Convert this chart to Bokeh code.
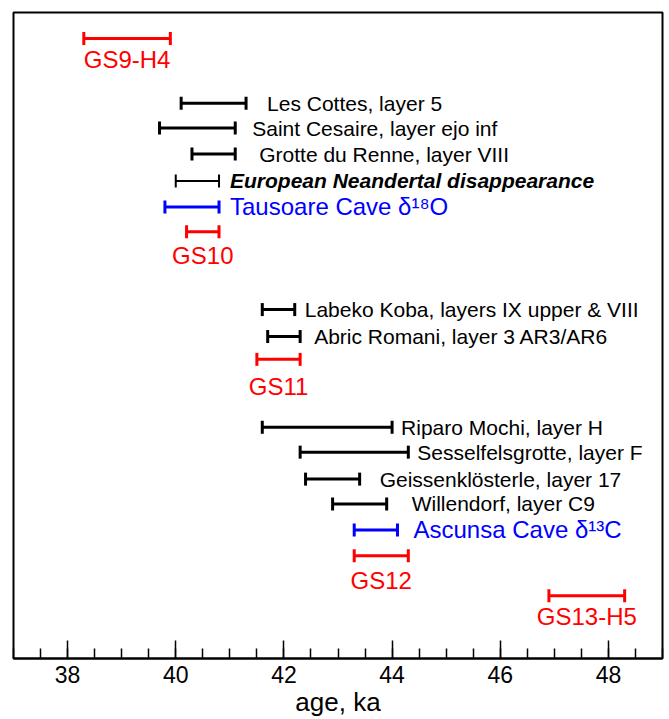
import math
from bokeh.plotting import figure
from bokeh.models import ColumnDataSource, Range1d, SingleIntervalTicker
from bokeh.core.properties import value
from bokeh.embed import file_html
from bokeh.resources import INLINE

# ---- data (ages in ka) ----
gs_names = ["GS9-H4", "GS10", "GS11", "GS12", "GS13-H5"]
gs_start = [38.3, 40.2, 41.5, 43.3, 46.9]
gs_end = [39.9, 40.8, 42.3, 44.3, 48.3]
gs_row = [1.0, 8.46, 13.38, 20.96, 22.5]
gs_label_drop = [21, 24, 27, 25, 21]

site_names = [
    "Les Cottes, layer 5",
    "Saint Cesaire, layer ejo inf",
    "Grotte du Renne, layer VIII",
    "European Neandertal disappearance",
    "Labeko Koba, layers IX upper & VIII",
    "Abric Romani, layer 3 AR3/AR6",
    "Riparo Mochi, layer H",
    "Sesselfelsgrotte, layer F",
    "Geissenklösterle, layer 17",
    "Willendorf, layer C9",
]
site_start = [40.1, 39.7, 40.3, 40.0, 41.6, 41.7, 41.6, 42.3, 42.4, 42.9]
site_end = [41.3, 41.1, 41.1, 40.8, 42.2, 42.3, 44.0, 44.3, 43.4, 43.9]
site_row = [3.5, 4.46, 5.46, 6.5, 11.46, 12.5, 16.0, 16.96, 18.0, 18.96]
site_gap = [21, 17, 24, 11, 10, 14, 9, 9, 20, 25]
site_style = ["normal", "normal", "normal", "bold italic", "normal",
              "normal", "normal", "normal", "normal", "normal"]
site_lw = [3, 3, 3, 2, 3, 3, 3, 3, 3, 3]

cave_names = ["Tausoare Cave δ¹⁸O", "Ascunsa Cave δ¹³C"]
cave_start = [39.8, 43.3]
cave_end = [40.8, 44.1]
cave_row = [7.5, 19.96]
cave_gap = [11, 16]

x_ticks_interval = 2
RED = "#ff0000"
BLUE = "#0000ff"
FONT = value("Liberation Sans")

p = figure(width=669, height=719,
           x_range=Range1d(37, 49), y_range=Range1d(24.92, 0),
           output_backend="svg", toolbar_location=None, title=None,
           min_border_left=13, min_border_right=7, min_border_top=12,
           min_border_bottom=0)
p.yaxis.visible = False
p.grid.visible = False
p.background_fill_color = "white"
p.border_fill_color = "white"
p.outline_line_color = "black"
p.outline_line_width = 2
p.outline_line_alpha = 1

xa = p.xaxis[0]
xa.ticker = SingleIntervalTicker(interval=x_ticks_interval, num_minor_ticks=4)
xa.major_tick_in = 18
xa.major_tick_out = 0
xa.minor_tick_in = 10
xa.minor_tick_out = 0
xa.major_tick_line_width = 1.5
xa.minor_tick_line_width = 1.5
xa.major_tick_line_color = "black"
xa.minor_tick_line_color = "black"
xa.axis_line_width = 2
xa.axis_line_color = "black"
xa.major_label_text_font = "Liberation Sans"
xa.major_label_text_font_size = "23px"
xa.major_label_text_color = "black"
xa.major_label_standoff = 7
xa.axis_label = "age, ka"
xa.axis_label_text_font = "Liberation Sans"
xa.axis_label_text_font_size = "26px"
xa.axis_label_text_font_style = "normal"
xa.axis_label_text_color = "black"
xa.axis_label_standoff = 1


def draw_bars(src, color, lw):
    p.segment(x0="lo", y0="y", x1="hi", y1="y", line_color=color,
              line_width=lw, line_cap="butt", source=src)
    for end in ("lo", "hi"):
        p.scatter(x=end, y="y", marker="dash", size=13, angle=math.pi / 2,
                  line_color=color, line_width=lw, source=src)


gs_src = ColumnDataSource(dict(
    lo=gs_start, hi=gs_end, y=gs_row, name=gs_names,
    mid=[(a + b) / 2 for a, b in zip(gs_start, gs_end)],
    drop=gs_label_drop))
draw_bars(gs_src, RED, 3)
p.text(x="mid", y="y", text="name", y_offset="drop", text_align="center",
       text_baseline="middle", text_font=FONT, text_font_size="24px",
       text_color=RED, source=gs_src)

site_src = ColumnDataSource(dict(
    lo=site_start, hi=site_end, y=site_row, name=site_names,
    gap=site_gap, style=site_style, lw=site_lw))
draw_bars(site_src, "black", "lw")
p.text(x="hi", y="y", text="name", x_offset="gap", text_align="left",
       text_baseline="middle", text_font=FONT, text_font_size="21px",
       text_font_style="style", text_color="black", source=site_src)

cave_src = ColumnDataSource(dict(
    lo=cave_start, hi=cave_end, y=cave_row, name=cave_names, gap=cave_gap))
draw_bars(cave_src, BLUE, 3)
p.text(x="hi", y="y", text="name", x_offset="gap", text_align="left",
       text_baseline="middle", text_font=FONT, text_font_size="24px",
       text_color=BLUE, source=cave_src)

open("out.html", "w").write(file_html(p, INLINE))
